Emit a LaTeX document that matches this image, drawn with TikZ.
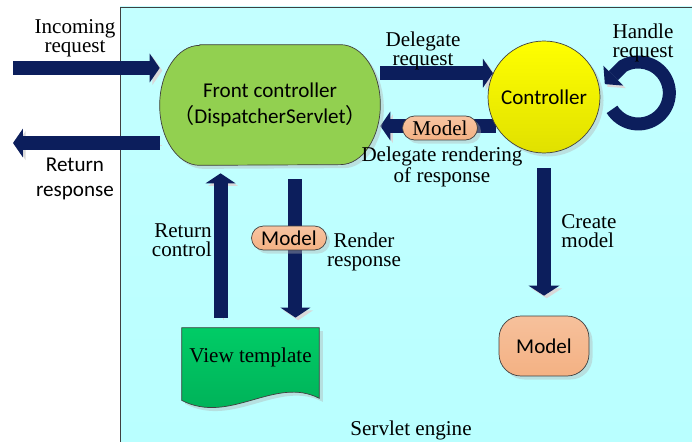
\documentclass[tikz,border=0pt]{standalone}
\usepackage{fontspec}
\setmainfont{Liberation Serif}
\setsansfont{Carlito}
\newfontfamily\cjk{Noto Sans CJK SC}
\usetikzlibrary{arrows.meta,shapes.misc,shadows,positioning}
\definecolor{navyarrow}{RGB}{12,30,92}
\definecolor{enginebg}{RGB}{185,255,255}
\definecolor{frontgreen}{RGB}{146,208,80}
\definecolor{viewgreen}{RGB}{0,204,102}
\definecolor{modelorange}{RGB}{244,177,131}
\definecolor{edgegray}{RGB}{64,64,64}
\pgfdeclarelayer{back}
\pgfdeclarelayer{arrows}
\pgfdeclarelayer{shapes}
\pgfsetlayers{back,arrows,shapes,main}
\tikzset{
  bigarrow/.style={draw=navyarrow, line width=0.28cm,
    -{Triangle[length=0.2cm,width=0.58cm,line width=0pt]},
    preaction={draw=black!15, transform canvas={shift={(1.5pt,-1.5pt)}}}},
  lbl/.style={font=\fontsize{12}{11}\selectfont, align=center, inner sep=0pt},
  sflbl/.style={font=\sffamily\fontsize{12}{14}\selectfont, align=center, inner sep=0pt},
  boxshadow/.style={drop shadow={shadow xshift=2pt, shadow yshift=-2pt, fill=black!30, opacity=.4}},
  pill/.style={rounded rectangle, draw=edgegray, top color=modelorange!75!white,
    bottom color=modelorange, minimum width=1.5cm, minimum height=0.48cm, inner sep=0pt, boxshadow},
}
\begin{document}
\begin{tikzpicture}[x=0.02cm,y=-0.02cm]
  \useasboundingbox (0,0) rectangle (692,442);
  \begin{pgfonlayer}{back}
    \fill[top color=enginebg!85!white, bottom color=enginebg] (120,7) rectangle (692,442);
    \draw[edgegray] (120,442) -- (120,7) -- (692,7);
  \end{pgfonlayer}

  % main nodes
  \node[minimum width=4.4cm, minimum height=2.4cm, sflbl,
    font=\sffamily\fontsize{12}{15}\selectfont] (front) at (270,105)
    {Front controller\\{\cjk （}DispatcherServlet{\cjk ）}};
  \begin{pgfonlayer}{shapes}
    \draw[edgegray, fill=frontgreen, boxshadow]
      ([xshift=0.8cm]front.north west) -- ([xshift=-0.8cm]front.north east)
      arc[start angle=90,end angle=-90,x radius=0.8cm,y radius=1.2cm]
      -- ([xshift=0.8cm]front.south west)
      arc[start angle=270,end angle=90,x radius=0.8cm,y radius=1.2cm] -- cycle;
  \end{pgfonlayer}
  \node[circle, draw=edgegray, top color=yellow, bottom color=yellow!88!black,
    minimum size=2.24cm, boxshadow, sflbl] (ctrl) at (544,97) {Controller};
  \node[draw=edgegray, rounded corners=0.44cm, top color=modelorange!80!white,
    bottom color=modelorange, minimum width=1.8cm, minimum height=1.2cm,
    boxshadow, sflbl] (model) at (544,346) {Model};
  \node[minimum width=2.74cm, minimum height=1.64cm, inner sep=0pt] (view) at (250.5,369) {};
  \draw[edgegray, top color=viewgreen, bottom color=viewgreen!85!black, boxshadow]
    (view.north west) -- (view.north east) -- ([yshift=0.24cm]view.south east)
    .. controls ([xshift=0.49cm,yshift=0.7cm]view.south) and ([xshift=-0.41cm,yshift=-0.3cm]view.south)
    .. ([yshift=0.2cm]view.south west) -- cycle;
  \node[lbl] (viewtxt) at ([yshift=0.24cm]view.center) {View template};

  % arrows
  \coordinate (inA) at (13,68);
  \coordinate (outA) at (13,143);
  \coordinate (rcBot) at ([xshift=-0.6cm,yshift=0.2cm]view.north);
  \coordinate (rrBot) at ([xshift=0.9cm,yshift=0.2cm]view.north);
  \begin{pgfonlayer}{arrows}
    \draw[bigarrow] (inA) -- (inA -| front.west);
    \draw[bigarrow] (outA -| front.west) -- (outA);
    \draw[bigarrow] (front.east |- ctrl.155) -- (ctrl.155);
    \draw[bigarrow] (ctrl.211) -- (front.east |- ctrl.211);
    \draw[bigarrow, -{Triangle[length=0.2cm,width=0.6cm,line width=0pt]}, shorten >=0.16cm]
      (rcBot) -- (rcBot |- front.south);
    \draw[bigarrow, -{Triangle[length=0.2cm,width=0.6cm,line width=0pt]}, shorten <=0.28cm]
      (rrBot |- front.south) -- (rrBot);
    \draw[bigarrow, -{Triangle[length=0.2cm,width=0.62cm,line width=0pt]}, shorten <=0.3cm, shorten >=0.4cm]
      (ctrl.south) -- (model.north);
    \draw[bigarrow, line width=0.26cm, -{Triangle[length=0.24cm,width=0.56cm,line width=0pt]}]
      ([xshift=0.234cm,yshift=-0.248cm]ctrl.east) arc[start angle=-148,end angle=120,radius=0.62cm]
      -- ++(-0.36cm,-0.36cm);
  \end{pgfonlayer}

  % model pills
  \node[pill, font=\fontsize{12}{12}\selectfont] (mdlA) at (440,128) {Model};
  \node[pill, font=\sffamily\fontsize{12}{12}\selectfont] (mdlB) at (289,238) {Model};

  % labels
  \node[lbl] (inLbl) at (75,38) {Incoming\\request};
  \node[sflbl] (outLbl) at (75,179) {Return\\response};
  \node[lbl] (dreqLbl) at (423,51) {Delegate\\request};
  \node[lbl] (handleLbl) at (643,43) {Handle\\request};
  \node[lbl] (drendLbl) at (442,167) {Delegate rendering\\of response};
  \node[lbl, align=right, anchor=east] (rcLbl) at (212,240) {Return\\control};
  \node[lbl] (rrLbl) at (364,252) {Render\\response};
  \node[lbl, align=left, anchor=west] (cmLbl) at (561,231) {Create\\model};
  \node[lbl] (engineLbl) at (411,430) {Servlet engine};
\end{tikzpicture}
\end{document}
